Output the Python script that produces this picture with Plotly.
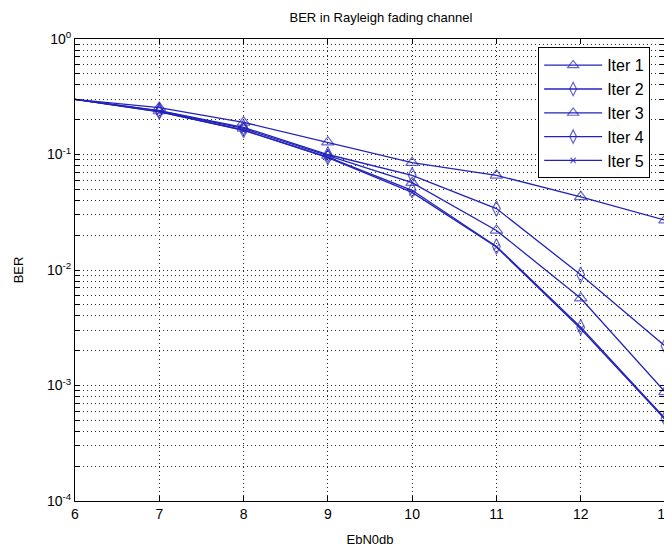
import plotly.graph_objects as go

ebn0 = [6, 7, 8, 9, 10, 11, 12, 13]
iter1 = [0.30, 0.255, 0.19, 0.128, 0.085, 0.066, 0.043, 0.027]
iter2 = [0.30, 0.24, 0.172, 0.100, 0.066, 0.034, 0.0091, 0.0022]
iter3 = [0.30, 0.238, 0.168, 0.098, 0.057, 0.022, 0.0057, 0.00088]
iter4 = [0.30, 0.235, 0.163, 0.095, 0.049, 0.016, 0.0032, 0.00052]
iter5 = [0.30, 0.234, 0.162, 0.094, 0.047, 0.0158, 0.0031, 0.00051]
series_names = ["Iter 1", "Iter 2", "Iter 3", "Iter 4", "Iter 5"]
x_ticks = [6, 7, 8, 9, 10, 11, 12, 13]
decades = [-4, -3, -2, -1, 0]

COLOR = "rgb(35,35,185)"
FONT = "Liberation Sans Narrow, Liberation Sans, Arial, sans-serif"
GRID = "rgb(40,40,40)"

symbols = ["triangle-up-open", "diamond-tall-open", "triangle-up-open",
           "diamond-tall-open", "x-thin-open"]
sizes = [11, 11, 11, 11, 6]

fig = go.Figure()
for name, ys, sym, sz in zip(series_names, [iter1, iter2, iter3, iter4, iter5], symbols, sizes):
    fig.add_trace(go.Scatter(
        x=ebn0, y=ys, name=name, mode="lines+markers",
        line=dict(color=COLOR, width=1.3),
        marker=dict(symbol=sym, size=[0] + [sz] * (len(ebn0) - 1),
                    color=COLOR, line=dict(color=COLOR, width=1.2)),
        cliponaxis=False,
    ))

# log-axis tick values: every 1..9 x 10^k, labels only at decades
yvals, ytext = [], []
for d in decades:
    for m in range(1, 10):
        if d == 0 and m > 1:
            break
        yvals.append(m * 10.0 ** d)
        ytext.append(f"10<sup>{d}</sup>" if m == 1 else "")

fig.update_layout(
    width=672, height=542,
    margin=dict(l=67, r=15, t=31, b=49),
    paper_bgcolor="white", plot_bgcolor="white",
    font=dict(family=FONT, size=14, color="black"),
    title=dict(text="BER in Rayleigh fading channel", x=0.555, xanchor="center",
               y=0.982, yanchor="middle", font=dict(size=13, family=FONT)),
    showlegend=True,
    legend=dict(x=0.785, y=0.982, xanchor="left", yanchor="top",
                bgcolor="white", bordercolor="black", borderwidth=1,
                font=dict(size=16, family=FONT), itemwidth=58,
                tracegroupgap=0),
)
fig.update_xaxes(
    range=[6, 13], tickvals=x_ticks, ticktext=[str(v) for v in x_ticks],
    ticks="inside", ticklen=5, tickcolor="black",
    showline=True, linecolor="black", linewidth=1, mirror="ticks",
    showgrid=True, gridcolor=GRID, griddash="1px,3px", gridwidth=1,
    zeroline=False, ticklabeloverflow="allow", automargin=False,
    title=dict(text="EbN0db", font=dict(size=13, family=FONT), standoff=14),
    tickfont=dict(size=14),
)
fig.update_yaxes(
    type="log", range=[-4, 0], tickvals=yvals, ticktext=ytext,
    ticks="inside", ticklen=5, tickcolor="black",
    showline=True, linecolor="black", linewidth=1, mirror="ticks",
    showgrid=True, gridcolor=GRID, griddash="1px,3px", gridwidth=1,
    zeroline=False, ticklabeloverflow="allow", automargin=False,
    title=dict(text="BER", font=dict(size=13, family=FONT), standoff=20),
    tickfont=dict(size=14),
)

fig.write_html("out.html")
